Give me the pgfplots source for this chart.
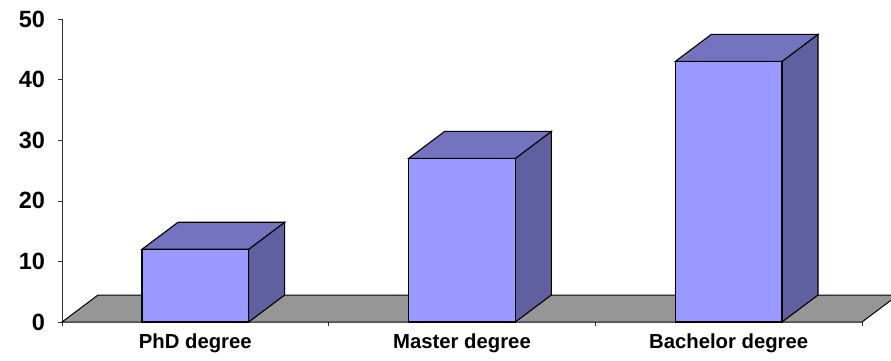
\documentclass[border=0pt]{standalone}
\usepackage{pgfplots}
\pgfplotsset{compat=1.18}
\usepackage{fontspec}
\setmainfont{Liberation Sans}
\definecolor{frontc}{RGB}{153,153,255}
\definecolor{topc}{RGB}{115,115,192}
\definecolor{sidec}{RGB}{96,96,160}
\definecolor{floorc}{RGB}{150,150,150}
\begin{document}
\begin{tikzpicture}
\path[use as bounding box] (0pt,0pt) rectangle (891pt,360pt);
\begin{axis}[
  at={(62pt,38pt)}, anchor=south west,
  scale only axis, width=800pt, height=303pt,
  xmin=0, xmax=3, ymin=0, ymax=50,
  clip=false,
  axis y line*=left, axis x line*=bottom,
  x axis line style={draw=none},
  y axis line style={black!80, line width=0.8pt},
  ytick={0,10,20,30,40,50},
  xtick={0,1,2,3}, xticklabels={},
  extra x ticks={0.5,1.5,2.5},
  extra x tick labels={PhD degree, Master degree, Bachelor degree},
  extra x tick style={major tick length=0pt},
  tick align=outside, major tick length=4pt,
  tick style={black!80, line width=0.6pt},
  /pgf/number format/assume math mode=true,
  yticklabel style={font=\fontsize{23.5}{23.5}\selectfont\bfseries, xshift=-9.5pt},
  xticklabel style={font=\fontsize{20.3}{20.3}\selectfont\bfseries, yshift=-8.5pt},
]
% floor
\addplot[fill=floorc, draw=black, line width=1pt] coordinates {(0,0) (3,0) (3.135,4.455) (0.135,4.455)} -- cycle;
% sides
\addplot[fill=sidec, draw=black, line width=1.1pt] coordinates {(0.7,0) (0.7,12) (0.835,16.455) (0.835,4.455)} -- cycle;
\addplot[fill=sidec, draw=black, line width=1.1pt] coordinates {(1.7,0) (1.7,27) (1.835,31.455) (1.835,4.455)} -- cycle;
\addplot[fill=sidec, draw=black, line width=1.1pt] coordinates {(2.7,0) (2.7,43) (2.835,47.455) (2.835,4.455)} -- cycle;
% tops
\addplot[fill=topc, draw=black, line width=1.1pt] coordinates {(0.3,12) (0.7,12) (0.835,16.455) (0.435,16.455)} -- cycle;
\addplot[fill=topc, draw=black, line width=1.1pt] coordinates {(1.3,27) (1.7,27) (1.835,31.455) (1.435,31.455)} -- cycle;
\addplot[fill=topc, draw=black, line width=1.1pt] coordinates {(2.3,43) (2.7,43) (2.835,47.455) (2.435,47.455)} -- cycle;
% fronts
\addplot[ybar, bar width=0.4, fill=frontc, draw=black, line width=1.1pt] coordinates {(0.5,12) (1.5,27) (2.5,43)};
\end{axis}
\end{tikzpicture}
\end{document}
